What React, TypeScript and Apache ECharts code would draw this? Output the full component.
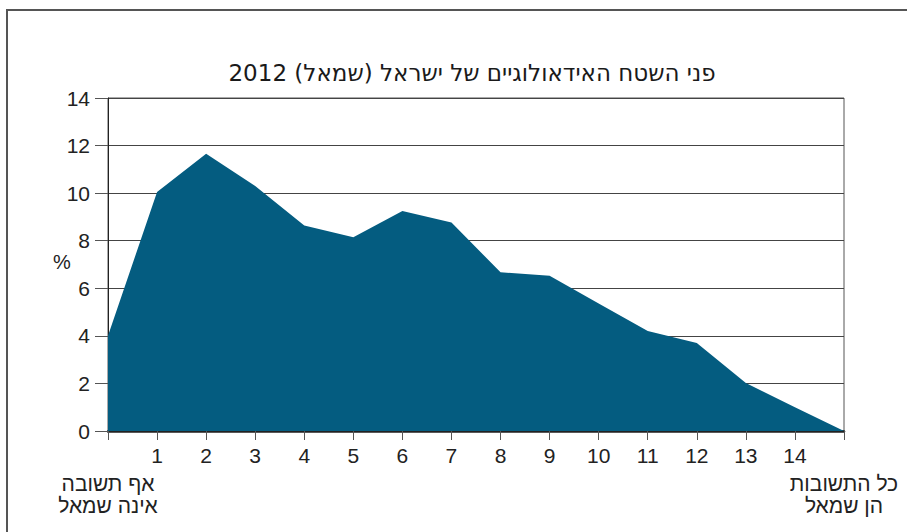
import React, { useEffect, useRef } from "react";
import * as echarts from "echarts";

const titleText = "פני השטח האידאולוגיים של ישראל (שמאל) 2012";
const xPositions = [0, 1, 2, 3, 4, 5, 6, 7, 8, 9, 10, 11, 12, 13, 14, 15];
const values = [4.0, 10.05, 11.66, 10.3, 8.64, 8.15, 9.25, 8.77, 6.67, 6.53, 5.36, 4.2, 3.7, 2.02, 1.0, 0];
const leftEndLabel = ["אף תשובה", "אינה שמאל"];
const rightEndLabel = ["כל התשובות", "הן שמאל"];
const yUnit = "%";

const FONT = "'Liberation Sans', Arial, sans-serif";

export default function App() {
  const ref = useRef<HTMLDivElement>(null);
  useEffect(() => {
    document.body.style.margin = "0";
    const chart = echarts.init(ref.current!, undefined, { renderer: "svg" });
    const first = xPositions[0];
    const last = xPositions[xPositions.length - 1];
    const option: any = {
      animation: false,
      backgroundColor: "#ffffff",
      title: {
        text: titleText,
        left: 467,
        top: 56,
        textAlign: "center",
        textStyle: { fontFamily: "'DejaVu Sans', sans-serif", fontSize: 23, fontWeight: "normal", color: "#1a1a1a" },
      },
      graphic: [
        {
          type: "rect",
          shape: { x: 7, y: 10, width: 960, height: 600 },
          style: { fill: "none", stroke: "#555", lineWidth: 2 },
          silent: true,
        },
        {
          type: "text",
          x: 62,
          y: 262,
          style: { text: yUnit, fontFamily: FONT, fontSize: 20, fill: "#222", align: "center", verticalAlign: "middle" },
        },
      ],
      grid: { left: 108, right: 63, top: 98, bottom: 101, show: true, borderColor: "#555", borderWidth: 1, containLabel: false },
      xAxis: [
        {
          type: "value",
          min: first,
          max: last,
          interval: 1,
          axisLine: { show: true, lineStyle: { color: "#222", width: 2.5 } },
          axisTick: { show: true, length: 9, lineStyle: { color: "#555", width: 1 } },
          splitLine: { show: false },
          axisLabel: {
            showMinLabel: true,
            showMaxLabel: true,
            margin: 13,
            verticalAlign: "top",
            fontFamily: FONT,
            fontSize: 21,
            lineHeight: 22,
            color: "#222",
            formatter: (v: number) => (v === first || v === last ? "" : String(v)),
          },
        },
        {
          type: "value",
          position: "bottom",
          min: first,
          max: last,
          interval: 1,
          axisLine: { show: false },
          axisTick: { show: false },
          splitLine: { show: false },
          axisLabel: {
            showMinLabel: true,
            showMaxLabel: true,
            margin: 41,
            verticalAlign: "top",
            align: "center",
            fontFamily: FONT,
            fontSize: 21,
            lineHeight: 22,
            color: "#222",
            formatter: (v: number) =>
              v === first ? leftEndLabel.join("\n") : v === last ? rightEndLabel.join("\n") : "",
          },
        },
      ],
      yAxis: {
        type: "value",
        min: 0,
        max: 14,
        interval: 2,
        axisLine: { show: true, lineStyle: { color: "#222", width: 1 } },
        axisTick: { show: true, length: 13, lineStyle: { color: "#555", width: 1 } },
        splitLine: { show: true, lineStyle: { color: "#444", width: 1 } },
        axisLabel: { margin: 18, fontFamily: FONT, fontSize: 21, color: "#222" },
      },
      series: [
        {
          type: "line",
          xAxisIndex: 0,
          data: xPositions.map((x, i) => [x, values[i]]),
          showSymbol: false,
          symbol: "none",
          lineStyle: { width: 0, color: "#045c80" },
          areaStyle: { color: "#045c80", opacity: 1 },
          z: 1,
        },
      ],
    };
    chart.setOption(option);
    return () => chart.dispose();
  }, []);
  return <div ref={ref} style={{ width: 907, height: 532 }} />;
}
